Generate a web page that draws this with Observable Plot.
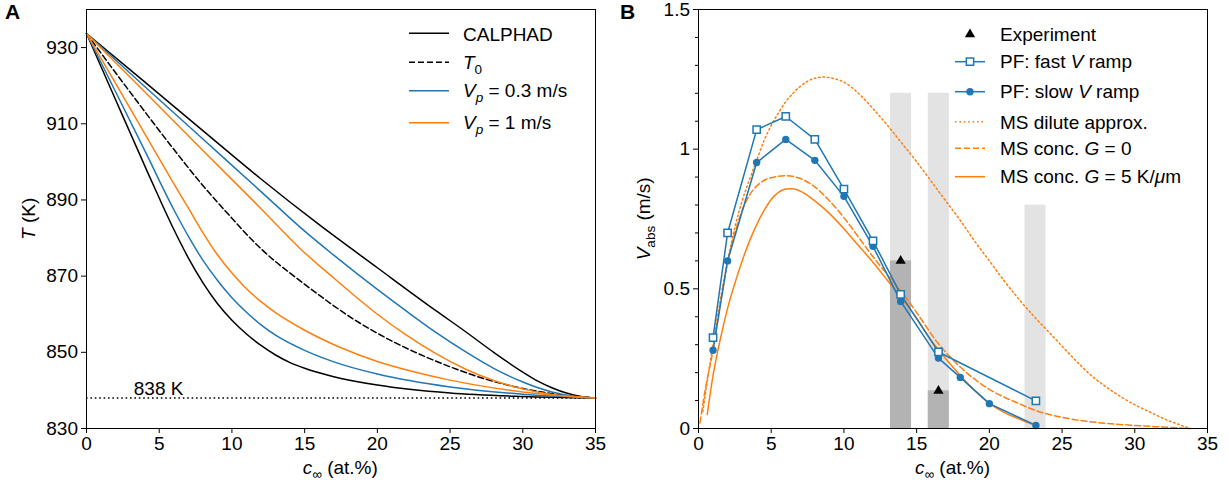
<!DOCTYPE html>
<html><head><meta charset="utf-8">
<script src="https://cdn.jsdelivr.net/npm/d3@7"></script>
<script src="https://cdn.jsdelivr.net/npm/@observablehq/plot@0.6"></script>
<style>
body{margin:0;background:#fff;}
#wrap{position:relative;width:1229px;height:486px;background:#fff;}
.panel{position:absolute;top:0;}
</style></head><body><div id="wrap"><div id="pa" class="panel" style="left:0"></div><div id="pb" class="panel" style="left:614px"></div></div>
<script>
const FONT = '"Liberation Sans", Arial, Helvetica, sans-serif';
const BLUE = "#1f77b4", ORANGE = "#ff7f0e";
const DASH = "6,3", DOT = "1.6,2.8";

// ---------- Panel A data: T (K) vs c (at.%) ----------
const xTicks = [0, 5, 10, 15, 20, 25, 30, 35];
const yTicksA = [830, 850, 870, 890, 910, 930];
const eutecticT = [838];

const calphadUpperC = [0, 4, 8, 12, 16, 20, 24, 26, 28, 30, 31, 32, 33, 34, 35];
const calphadUpperT = [933.7, 921, 908.2, 895.5, 883.5, 872.2, 861, 855.6, 850, 844.8, 842.5, 840.7, 839.3, 838.4, 838];
const calphadLowerC = [0, 2, 4, 5, 6, 7, 8, 9, 10, 11, 12, 13, 14, 15, 17, 20, 25, 30, 35];
const calphadLowerT = [933.7, 916.3, 899, 890.5, 882.3, 874.8, 868.3, 862.8, 858.4, 854.8, 851.8, 849.3, 847.3, 845.8, 843.6, 841.4, 839.3, 838.4, 838];
const t0C = [0, 3, 6, 8, 10, 11, 12, 13, 14, 16, 18, 20, 22.5, 25, 27.5, 30, 32.5, 35];
const t0T = [933.7, 918.3, 903.3, 893.8, 885.2, 881, 877.2, 873.8, 870.8, 865, 859.6, 855, 850.2, 846.2, 842.9, 840.5, 838.9, 838];
const vp03UpperC = [0, 4, 8, 12, 15, 17, 20, 22, 24, 26, 28, 30, 32, 33.5, 35];
const vp03UpperT = [933.7, 919.8, 906, 892.2, 881.8, 875.5, 866.5, 860.8, 855.3, 850.3, 845.8, 842.2, 839.6, 838.5, 838];
const vp03LowerC = [0, 2, 4, 6, 7, 8, 9, 10, 11, 12, 13, 15, 17, 20, 25, 30, 35];
const vp03LowerT = [933.7, 918.4, 903, 887.5, 880.5, 874.2, 868.9, 864.3, 860.5, 857.2, 854.5, 850.5, 847.5, 844.3, 840.9, 839, 838];
const vp1UpperC = [0, 4, 8, 12, 14.7, 17, 20, 22, 24, 26, 28, 30, 32, 35];
const vp1UpperT = [933.7, 918.4, 903, 887.7, 877.2, 869.5, 860, 854.5, 849.7, 845.7, 842.6, 840.4, 838.9, 838];
const vp1LowerC = [0, 2, 4, 6, 7, 8, 9, 10, 11, 12, 13, 15, 17.5, 20, 22.5, 25, 30, 35];
const vp1LowerT = [933.7, 920.6, 907.4, 894.3, 887.9, 881.4, 875.6, 870.8, 866.7, 863.3, 860.4, 855.8, 851.2, 847.6, 844.9, 842.7, 839.6, 838];

// ---------- Panel B data: V_abs (m/s) vs c (at.%) ----------
const yTicksB = [0, 0.5, 1, 1.5];
const yMinorB = [0.1, 0.2, 0.3, 0.4, 0.6, 0.7, 0.8, 0.9, 1.1, 1.2, 1.3, 1.4];
const barLeft = [13.2, 15.8, 22.45];
const barRight = [14.65, 17.25, 23.9];
const barTop = [1.2, 1.2, 0.8];
const expC = [13.9, 16.5];
const expV = [0.6, 0.135];
const pfFastC = [1, 2, 4, 6, 8, 10, 12, 13.9, 16.5, 23.2];
const pfFastV = [0.325, 0.70, 1.07, 1.117, 1.035, 0.857, 0.672, 0.48, 0.274, 0.099];
const pfSlowC = [1, 2, 4, 6, 8, 10, 12, 13.9, 16.5, 18, 20, 23.2];
const pfSlowV = [0.28, 0.6, 0.952, 1.035, 0.96, 0.831, 0.652, 0.455, 0.252, 0.183, 0.089, 0.011];
const msDiluteC = [0.3, 0.6, 1, 1.5, 2, 2.5, 3, 3.5, 4, 4.5, 5, 5.5, 6, 6.5, 7, 7.5, 8, 8.6, 9, 9.5, 10, 11, 12, 13, 14, 15, 16, 17, 18, 19, 20, 21, 22, 23, 24, 25, 26, 27, 28, 29, 30, 31, 32, 33, 33.8];
const msDiluteV = [0.06, 0.17, 0.3, 0.46, 0.6, 0.72, 0.815, 0.89, 0.96, 1.03, 1.085, 1.13, 1.17, 1.2, 1.225, 1.243, 1.254, 1.258, 1.256, 1.25, 1.24, 1.2, 1.145, 1.085, 1.02, 0.955, 0.885, 0.815, 0.745, 0.67, 0.6, 0.53, 0.465, 0.405, 0.35, 0.295, 0.24, 0.19, 0.15, 0.115, 0.085, 0.06, 0.035, 0.015, 0];
const msG0C = [0.1, 0.5, 1, 1.5, 2, 2.5, 3, 3.5, 4, 5, 6, 7, 8, 9, 10, 11, 12, 13, 14, 15, 16.4, 18, 20, 22, 23, 25, 27.5, 30, 32, 33.8];
const msG0V = [0.02, 0.15, 0.28, 0.45, 0.595, 0.7, 0.78, 0.835, 0.868, 0.898, 0.905, 0.895, 0.865, 0.815, 0.755, 0.685, 0.615, 0.55, 0.487, 0.415, 0.31, 0.22, 0.14, 0.09, 0.068, 0.04, 0.021, 0.011, 0.005, 0];
const msG5C = [0.6, 1, 1.5, 2, 2.5, 3, 3.5, 4, 4.5, 5, 5.5, 6, 6.5, 7, 8, 9, 10, 11, 12, 13, 14, 15, 16, 17, 18, 19, 20, 21, 22, 23.2];
const msG5V = [0.05, 0.19, 0.32, 0.43, 0.52, 0.6, 0.67, 0.73, 0.78, 0.82, 0.845, 0.857, 0.858, 0.85, 0.815, 0.77, 0.715, 0.655, 0.595, 0.53, 0.465, 0.395, 0.315, 0.25, 0.19, 0.135, 0.09, 0.058, 0.035, 0.01];

const pts = (xs, ys) => xs.map((x, i) => ({x, y: ys[i]}));
const fmt = d => String(d);
const baseStyle = {fontFamily: FONT, fontSize: "19px", color: "#000", background: "transparent", overflow: "visible"};

function line(xs, ys, stroke, dash, curve = "monotone-x") {
  return Plot.line(pts(xs, ys), {x: "x", y: "y", stroke, strokeWidth: 1.5, strokeDasharray: dash, curve});
}

// ---------- Panel A ----------
const plotA = Plot.plot({
  width: 614, height: 486,
  marginLeft: 86, marginRight: 19, marginTop: 9, marginBottom: 58,
  style: baseStyle,
  x: {domain: [0, 35]},
  y: {domain: [830, 940]},
  marks: [
    Plot.ruleY(eutecticT, {x1: 0, x2: 35, stroke: "black", strokeWidth: 1.5, strokeDasharray: DOT}),
    Plot.text(eutecticT, {x: 3.25, y: d => d, text: d => `${d} K`, textAnchor: "start", lineAnchor: "bottom", dy: -3, fill: "black", fontSize: 19}),
    line(calphadUpperC, calphadUpperT, "black"),
    line(calphadLowerC, calphadLowerT, "black"),
    line(t0C, t0T, "black", DASH),
    line(vp03UpperC, vp03UpperT, BLUE),
    line(vp03LowerC, vp03LowerT, BLUE),
    line(vp1UpperC, vp1UpperT, ORANGE),
    line(vp1LowerC, vp1LowerT, ORANGE),
    Plot.frame({stroke: "black", strokeWidth: 1}),
    Plot.axisX({ticks: xTicks, tickSize: 5, tickPadding: 3, tickFormat: fmt, label: null}),
    Plot.axisY({ticks: yTicksA, tickSize: 5, tickPadding: 3.5, tickFormat: fmt, label: null})
  ]
});
document.getElementById("pa").appendChild(plotA);

// ---------- Panel B ----------
const bars = barLeft.map((l, i) => ({l, r: barRight[i], top: barTop[i]}));
const darkBars = expV.map((v, i) => ({l: barLeft[i], r: barRight[i], top: v}));
const plotB = Plot.plot({
  width: 615, height: 486,
  marginLeft: 84, marginRight: 22, marginTop: 9, marginBottom: 58,
  style: baseStyle,
  x: {domain: [0, 35]},
  y: {domain: [0, 1.5]},
  marks: [
    Plot.rect(bars, {x1: "l", x2: "r", y1: 0, y2: "top", fill: "#e3e3e3"}),
    Plot.rect(darkBars, {x1: "l", x2: "r", y1: 0, y2: "top", fill: "#b3b3b3"}),
    line(msDiluteC, msDiluteV, ORANGE, DOT),
    line(msG0C, msG0V, ORANGE, DASH),
    line(msG5C, msG5V, ORANGE),
    line(pfFastC, pfFastV, BLUE, null, "linear"),
    line(pfSlowC, pfSlowV, BLUE, null, "linear"),
    Plot.dot(pts(pfSlowC, pfSlowV), {x: "x", y: "y", r: 3.7, fill: BLUE}),
    Plot.dot(pts(pfFastC, pfFastV), {x: "x", y: "y", symbol: "square", r: 4.1, fill: "white", stroke: BLUE, strokeWidth: 1.5}),
    Plot.dot(pts(expC, expV), {x: "x", y: "y", symbol: "triangle", r: 3.8, fill: "black"}),
    Plot.frame({stroke: "black", strokeWidth: 1}),
    Plot.axisX({ticks: xTicks, tickSize: 5, tickPadding: 3, tickFormat: fmt, label: null}),
    Plot.axisY({ticks: yTicksB, tickSize: 5, tickPadding: 3.5, tickFormat: fmt, label: null}),
    Plot.axisY({ticks: yMinorB, tickSize: 3, tickFormat: () => "", label: null})
  ]
});
document.getElementById("pb").appendChild(plotB);

// ---------- rich text helper ----------
function richText(svg, x, y, parts, opts = {}) {
  const t = d3.select(svg).append("text").attr("x", x).attr("y", y)
    .attr("font-family", FONT).attr("font-size", opts.size || 19).attr("fill", "black")
    .attr("text-anchor", opts.anchor || "start");
  if (opts.weight) t.attr("font-weight", opts.weight);
  if (opts.rotate) t.attr("transform", `rotate(${opts.rotate},${x},${y})`);
  let shift = 0;
  for (const p of parts) {
    const s = t.append("tspan").text(p.t);
    if (p.it) s.attr("font-style", "italic");
    const target = p.sub ? 5 : 0;
    if (target !== shift) { s.attr("dy", target - shift); shift = target; }
    if (p.sub) s.attr("font-size", 13.5);
  }
  return t;
}

// Panel letters
richText(plotA, 5, 19, [{t: "A"}], {size: 21, weight: "bold"});
richText(plotB, 6, 19, [{t: "B"}], {size: 21, weight: "bold"});

// Axis labels A
richText(plotA, 340.3, 474, [{t: "c", it: true}, {t: "∞", sub: true}, {t: " (at.%)"}], {anchor: "middle"});
richText(plotA, 35, 218.8, [{t: "T", it: true}, {t: " (K)"}], {anchor: "middle", rotate: -90});
// Axis labels B
richText(plotB, 338.5, 474, [{t: "c", it: true}, {t: "∞", sub: true}, {t: " (at.%)"}], {anchor: "middle"});
richText(plotB, 36, 218.8, [{t: "V", it: true}, {t: "abs", sub: true}, {t: " (m/s)"}], {anchor: "middle", rotate: -90});

// Legend A
const gA = d3.select(plotA);
function legLine(g, x1, x2, y, stroke, dash) {
  const l = g.append("line").attr("x1", x1).attr("x2", x2).attr("y1", y).attr("y2", y)
    .attr("stroke", stroke).attr("stroke-width", 1.5);
  if (dash) l.attr("stroke-dasharray", dash);
}
legLine(gA, 409, 449, 33.3, "black");
richText(plotA, 463, 40.7, [{t: "CALPHAD"}]);
legLine(gA, 409, 449, 62.3, "black", DASH);
richText(plotA, 463, 69.3, [{t: "T", it: true}, {t: "0", sub: true}]);
legLine(gA, 409, 449, 90.7, BLUE);
richText(plotA, 463, 97.3, [{t: "V", it: true}, {t: "p", it: true, sub: true}, {t: " = 0.3 m/s"}]);
legLine(gA, 409, 449, 122.7, ORANGE);
richText(plotA, 463, 129, [{t: "V", it: true}, {t: "p", it: true, sub: true}, {t: " = 1 m/s"}]);

// Legend B
const gB = d3.select(plotB);
const lx1 = 341, lx2 = 371, mx = 356, tx = 386;
gB.append("path").attr("d", d3.symbol(d3.symbolTriangle, Math.PI * 3.8 * 3.8)()).attr("transform", `translate(${mx},34.3)`).attr("fill", "black");
richText(plotB, tx, 41, [{t: "Experiment"}]);
legLine(gB, lx1, lx2, 61.7, BLUE);
gB.append("path").attr("d", d3.symbol(d3.symbolSquare, Math.PI * 4.1 * 4.1)()).attr("transform", `translate(${mx},61.7)`).attr("fill", "white").attr("stroke", BLUE).attr("stroke-width", 1.5);
richText(plotB, tx, 68.3, [{t: "PF: fast "}, {t: "V", it: true}, {t: " ramp"}]);
legLine(gB, lx1, lx2, 91.7, BLUE);
gB.append("circle").attr("cx", mx).attr("cy", 91.7).attr("r", 3.7).attr("fill", BLUE);
richText(plotB, tx, 98.3, [{t: "PF: slow "}, {t: "V", it: true}, {t: " ramp"}]);
legLine(gB, lx1, lx2, 121.7, ORANGE, DOT);
richText(plotB, tx, 129, [{t: "MS dilute approx."}]);
legLine(gB, lx1, lx2, 148.3, ORANGE, DASH);
richText(plotB, tx, 155, [{t: "MS conc. "}, {t: "G", it: true}, {t: " = 0"}]);
legLine(gB, lx1, lx2, 176.7, ORANGE);
richText(plotB, tx, 183.3, [{t: "MS conc. "}, {t: "G", it: true}, {t: " = 5 K/"}, {t: "μ", it: true}, {t: "m"}]);
</script></body></html>
